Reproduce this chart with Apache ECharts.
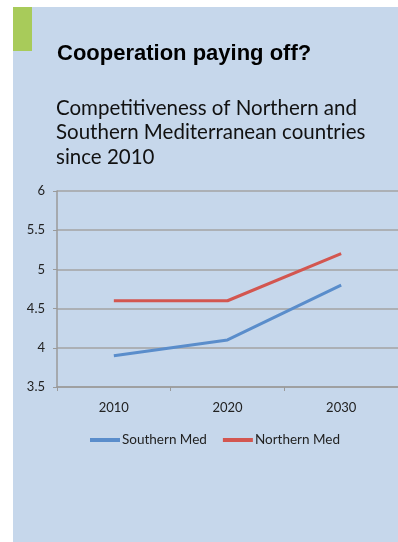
<!DOCTYPE html>
<html>
<head>
<meta charset="utf-8">
<style>
  html, body { margin: 0; padding: 0; background: #ffffff; }
  #chart { width: 398px; height: 542px; }
</style>
<script src="https://cdn.jsdelivr.net/npm/echarts@6/dist/echarts.min.js"></script>
</head>
<body>
<div id="chart"></div>
<script>
// Years on the category axis
var years = ['2010', '2020', '2030'];
// Competitiveness scores per region
var southernMed = [3.9, 4.1, 4.8];
var northernMed = [4.6, 4.6, 5.2];
// Value axis range and step
var yMin = 3.5;
var yMax = 6;
var yStep = 0.5;

var chart = echarts.init(document.getElementById('chart'), null, { renderer: 'canvas' });

var bodyFont = 'Lato, "Open Sans", sans-serif';

chart.setOption({
  backgroundColor: '#ffffff',
  animation: false,
  graphic: [
    { type: 'rect', left: 13, top: 7, shape: { width: 385, height: 535 }, style: { fill: '#c6d7eb' }, z: -10 },
    { type: 'rect', left: 13, top: 7, shape: { width: 19, height: 44 }, style: { fill: '#a8cb5a' }, z: -9 }
  ],
  title: [
    {
      text: 'Cooperation paying off?',
      left: 57, top: 43, padding: 0,
      textStyle: { fontFamily: '"Liberation Sans", Arial, sans-serif', fontWeight: 'bold', fontSize: 22, color: '#000000' }
    },
    {
      text: 'Competitiveness of Northern and\nSouthern Mediterranean countries\nsince 2010',
      left: 56, top: 96, padding: 0,
      textStyle: { fontFamily: bodyFont, fontWeight: 'normal', fontSize: 20.5, lineHeight: 24.5, color: '#111111' }
    }
  ],
  legend: {
    data: ['Southern Med', 'Northern Med'],
    top: 428,
    left: 85,
    icon: 'rect',
    itemWidth: 30,
    itemHeight: 4,
    itemGap: 16,
    textStyle: { fontFamily: bodyFont, fontSize: 13.5, color: '#222222', padding: [0, 0, 0, -3] }
  },
  grid: { left: 57, right: -5, top: 191, height: 196, containLabel: false },
  xAxis: {
    type: 'category',
    data: years,
    boundaryGap: true,
    axisLine: { show: true, lineStyle: { color: '#9a9a9a', width: 1.5 } },
    axisTick: { show: true, length: 4, lineStyle: { color: '#9a9a9a' } },
    axisLabel: { fontFamily: bodyFont, fontSize: 13, color: '#222222', margin: 14 }
  },
  yAxis: {
    type: 'value',
    min: yMin, max: yMax, interval: yStep,
    axisLine: { show: true, lineStyle: { color: '#9a9a9a', width: 1.5 } },
    axisTick: { show: true, length: 4, lineStyle: { color: '#9a9a9a' } },
    splitLine: { show: true, lineStyle: { color: '#a3a3a3', width: 1.5 } },
    axisLabel: { fontFamily: bodyFont, fontSize: 13, color: '#222222', margin: 12 }
  },
  series: [
    {
      name: 'Southern Med', type: 'line', data: southernMed,
      showSymbol: false, symbol: 'none',
      lineStyle: { color: '#5a8dcb', width: 3 },
      itemStyle: { color: '#5a8dcb' }
    },
    {
      name: 'Northern Med', type: 'line', data: northernMed,
      showSymbol: false, symbol: 'none',
      lineStyle: { color: '#d35650', width: 3 },
      itemStyle: { color: '#d35650' }
    }
  ]
});
</script>
</body>
</html>
